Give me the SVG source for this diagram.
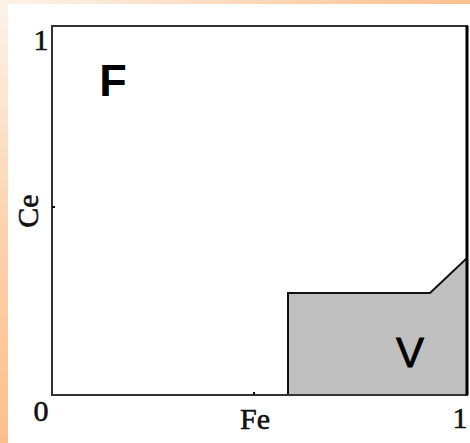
<svg xmlns="http://www.w3.org/2000/svg" width="470" height="443" viewBox="0 0 470 443">
<defs>
<linearGradient id="lg" x1="0" y1="0" x2="0" y2="1">
<stop offset="0" stop-color="#fdf3ea"/>
<stop offset="0.5" stop-color="#fcd4b0"/>
<stop offset="1" stop-color="#fbbf8c"/>
</linearGradient>
<linearGradient id="tg" x1="0" y1="0" x2="1" y2="0">
<stop offset="0" stop-color="#fdf3ea"/>
<stop offset="1" stop-color="#fbc08e"/>
</linearGradient>
<style>
.ax{font-family:"Liberation Serif",serif;font-size:30px;fill:#111;stroke:#111;stroke-width:0.6}
.lab{font-family:"Liberation Sans",Arial,sans-serif;fill:#000}
.frame{fill:none;stroke:#333;stroke-width:2}
</style>
</defs>
<rect x="0" y="0" width="470" height="443" fill="#fff"/>
<rect x="0" y="0" width="470" height="4" fill="url(#tg)"/>
<rect x="0" y="0" width="8" height="443" fill="url(#lg)"/>
<g id="region-V">
<polygon points="288,395 288,293 430,293 467,258 467,395" fill="#c0c0c0" stroke="#111" stroke-width="2"/>
<text class="lab" x="410" y="367" font-size="42" text-anchor="middle" stroke="#000" stroke-width="0.8">V</text>
</g>
<g id="frame">
<rect class="frame" x="52" y="26" width="415" height="369"/>
<line x1="467" y1="26" x2="467" y2="395" stroke="#000" stroke-width="3"/>
<line x1="254" y1="392" x2="254" y2="395" stroke="#111" stroke-width="2"/>
<line x1="52" y1="207" x2="55" y2="207" stroke="#111" stroke-width="2"/>
</g>
<g id="region-F">
<text class="lab" x="113" y="96" font-size="45" font-weight="bold" text-anchor="middle">F</text>
</g>
<g id="labels">
<text class="ax" x="41" y="50" text-anchor="middle">1</text>
<text class="ax" x="41" y="421" text-anchor="middle">0</text>
<text class="ax" x="255" y="429" text-anchor="middle">Fe</text>
<text class="ax" x="460" y="428" text-anchor="middle">1</text>
<text class="ax" transform="translate(38,211) rotate(-90)" text-anchor="middle">Ce</text>
</g>
</svg>
